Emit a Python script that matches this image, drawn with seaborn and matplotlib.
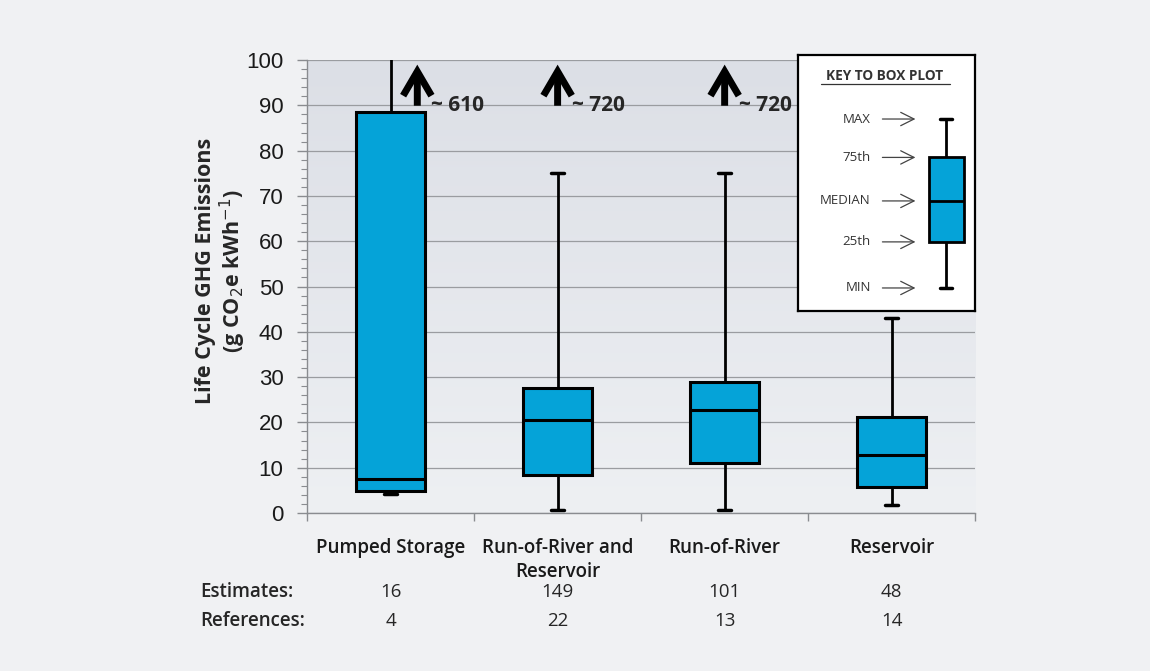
import matplotlib
matplotlib.use("Agg")
import matplotlib.pyplot as plt
import seaborn as sns
import numpy as np
import pandas as pd

# five-number summaries (g CO2e / kWh)
categories = ["Pumped Storage", "Run-of-River and\nReservoir", "Run-of-River", "Reservoir"]
mins = [4.3, 0.7, 0.7, 1.8]
q1s = [4.8, 8.4, 11.0, 5.8]
medians = [7.5, 20.5, 22.7, 12.7]
q3s = [88.5, 27.5, 29.0, 21.3]
maxs = [610, 75, 75, 43]
offscale = ["~ 610", "~ 720", "~ 720", None]
estimates = [16, 149, 101, 48]
references = [4, 22, 13, 14]

# key box plot (illustrative values)
key_labels = ["MIN", "25th", "MEDIAN", "75th", "MAX"]
key_vals = [9, 27, 43, 60, 75]

BOX_COLOR = "#05a3d8"
BG = "#f0f1f3"

sns.set_theme(style="white")
plt.rcParams["font.family"] = ["Liberation Sans", "DejaVu Sans"]
CAL = ["Open Sans", "DejaVu Sans"]

# with 5 points, linear percentiles hit exactly min/q1/median/q3/max
rows = []
for cat, a, b, c, d, e in zip(categories, mins, q1s, medians, q3s, maxs):
    for v in (a, b, c, d, e):
        rows.append({"Technology": cat, "Value": v})
df = pd.DataFrame(rows)

fig = plt.figure(figsize=(11.5, 6.71), dpi=100)
fig.patch.set_facecolor(BG)
ax = fig.add_axes([0.267, 0.2355, 0.581, 0.675])
ax.set_facecolor("#e4e7ec")

# soft vertical gradient behind the plot
grad = np.linspace(0, 1, 256).reshape(-1, 1)
ax.imshow(grad, extent=[0, 1, 0, 1], transform=ax.transAxes, aspect="auto",
          cmap=matplotlib.colors.LinearSegmentedColormap.from_list("g", ["#eef0f3", "#dcdfe6"]),
          origin="lower", zorder=0)

sns.boxplot(data=df, x="Technology", y="Value", order=categories, ax=ax,
            whis=(0, 100), width=0.41, color=BOX_COLOR, linecolor="black",
            linewidth=2.2, showfliers=False, capwidths=0.08,
            boxprops=dict(facecolor=BOX_COLOR, edgecolor="black", linewidth=2.2, zorder=3),
            medianprops=dict(color="black", linewidth=2.2, zorder=4),
            whiskerprops=dict(color="black", linewidth=2.0, zorder=2),
            capprops=dict(color="black", linewidth=2.5, zorder=2))

ax.set_ylim(0, 100)
ax.set_xlim(-0.5, 3.5)
ax.set_yticks(np.arange(0, 101, 10))
ax.set_yticks(np.arange(0, 101, 2), minor=True)
ax.yaxis.grid(True, color="#9a9ca0", linewidth=0.9, zorder=1)
ax.set_axisbelow(True)
ax.tick_params(axis="y", which="major", left=True, length=7, width=1, color="#8a8c90",
               labelsize=16, pad=10, labelcolor="#1a1a1a")
ax.tick_params(axis="y", which="minor", left=True, length=4, width=0.8, color="#8a8c90")
ax.set_xticks(np.arange(-0.5, 3.6, 1), minor=True)
ax.tick_params(axis="x", which="minor", bottom=True, length=6, width=1, color="#8a8c90")
ax.tick_params(axis="x", which="major", bottom=False, pad=12)
ax.set_xticks(range(len(categories)))
ax.set_xticklabels(categories, fontsize=13.5, fontweight="semibold", family=CAL,
                   linespacing=1.25, color="#1a1a1a")
ax.set_xlabel("")
ax.set_ylabel("Life Cycle GHG Emissions\n(g CO$_2$e kWh$^{-1}$)", fontsize=15.5,
              fontweight="bold", family=CAL, linespacing=1.1)
ax.yaxis.set_label_coords(-0.088, 0.535)
for side in ("top", "right"):
    ax.spines[side].set_visible(False)
for side in ("left", "bottom"):
    ax.spines[side].set_color("#8a8c90")
    ax.spines[side].set_linewidth(1)

# off-scale arrows and values
arrow_dx = [0.16, 0.0, 0.0]
for i, lab in enumerate(offscale):
    if lab is None:
        continue
    xa = i + arrow_dx[i]
    ax.annotate("", xy=(xa, 99.6), xytext=(xa, 89.3),
                arrowprops=dict(arrowstyle="->,head_length=1.45,head_width=0.85",
                                lw=5, color="black", capstyle="butt", joinstyle="miter"),
                annotation_clip=False, zorder=6)
    ax.text(xa + 0.085, 90.0, lab, fontsize=15, fontweight="bold", family=CAL,
            ha="left", va="center", zorder=6)

# counts beneath the chart
for i, (e, r) in enumerate(zip(estimates, references)):
    xf = ax.transData.transform((i, 0))[0] / fig.bbox.width
    fig.text(xf, 1 - 592 / 671, str(e), ha="center", va="center", fontsize=13.5, family=CAL)
    fig.text(xf, 1 - 621 / 671, str(r), ha="center", va="center", fontsize=13.5, family=CAL)
fig.text(0.174, 1 - 592 / 671, "Estimates:", ha="left", va="center", fontsize=13.5,
         fontweight="semibold", family=CAL)
fig.text(0.174, 1 - 621 / 671, "References:", ha="left", va="center", fontsize=13.5,
         fontweight="semibold", family=CAL)

# key to box plot
kax = fig.add_axes([0.694, 0.5365, 0.154, 0.3815])
kax.set_facecolor("white")
sns.boxplot(y=key_vals, ax=kax, whis=(0, 100), width=0.4, color=BOX_COLOR,
            linecolor="black", showfliers=False, capwidths=0.14,
            boxprops=dict(facecolor=BOX_COLOR, edgecolor="black", linewidth=2.0),
            medianprops=dict(color="black", linewidth=2.0),
            whiskerprops=dict(color="black", linewidth=2.0),
            capprops=dict(color="black", linewidth=2.5))
kax.set_xlim(-1.69, 0.33)
kax.set_ylim(0, 100)
kax.set_xticks([])
kax.set_yticks([])
kax.set_ylabel("")
for s in kax.spines.values():
    s.set_visible(True)
    s.set_color("black")
    s.set_linewidth(1.6)
kax.text(0.49, 0.92, "KEY TO BOX PLOT", transform=kax.transAxes, ha="center", va="center",
         fontsize=9.8, fontweight="bold", family=CAL, color="#333333")
kax.plot([0.13, 0.86], [0.888, 0.888], transform=kax.transAxes, color="#333333", lw=0.9)
for lab, v in zip(key_labels, key_vals):
    kax.text(-0.86, v, lab, ha="right", va="center", fontsize=9.5, family=CAL, color="#333333")
    kax.annotate("", xy=(-0.32, v), xytext=(-0.76, v),
                 arrowprops=dict(arrowstyle="->,head_length=0.8,head_width=0.4",
                                 lw=0.9, color="#444444"))

fig.savefig("out.png", dpi=100, facecolor=BG)
